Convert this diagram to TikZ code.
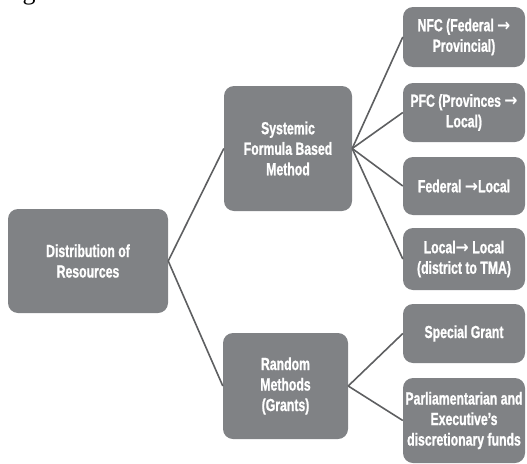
\documentclass[tikz,border=0pt]{standalone}
\usepackage{fontspec}
\setmainfont{Liberation Sans}[FakeStretch=0.7, BoldFont={Liberation Sans Bold}, BoldFeatures={FakeBold=1}]
\newfontfamily\arrowfont{DejaVu Sans Bold}[FakeStretch=0.9]
\newfontfamily\capfont{Liberation Serif}
\newcommand{\rarr}{{\arrowfont\char"2192}}
\definecolor{boxgray}{HTML}{808285}
\definecolor{linegray}{HTML}{5E5F61}
\begin{document}
\begin{tikzpicture}[x=1pt,y=-1pt,
  box/.style={fill=boxgray, rounded corners=10pt, text=white,
    font=\bfseries\fontsize{17.5}{20.5}\selectfont, align=center, inner sep=0pt},
  link/.style={draw=linegray, line width=1.6pt}]
\useasboundingbox (0,0) rectangle (527,463);
% clipped caption fragment
\node[anchor=base, font=\capfont\fontsize{26}{26}\selectfont, inner sep=0pt] (cap) at (29,-1) {g};
% boxes
\node[box, minimum width=160pt, minimum height=104pt] (dist) at (88,261) {Distribution of\\Resources};
\node[box, minimum width=128pt, minimum height=125pt] (sys) at (288,148.5) {Systemic\\Formula Based\\Method};
\node[box, minimum width=125pt, minimum height=106pt] (rand) at (285.5,386) {Random\\Methods\\(Grants)};
\node[box, minimum width=122pt, minimum height=60pt] (nfc) at (464,37) {NFC (Federal \rarr\\Provincial)};
\node[box, minimum width=122pt, minimum height=59pt] (pfc) at (464,112.5) {PFC (Provinces \rarr\\Local)};
\node[box, minimum width=122pt, minimum height=58pt] (fed) at (464,186) {Federal \rarr Local};
\node[box, minimum width=122pt, minimum height=62pt] (loc) at (464,259) {Local\rarr{} Local\\(district to TMA)};
\node[box, minimum width=122pt, minimum height=59pt] (spec) at (464,333.5) {Special Grant};
\node[box, minimum width=122pt, minimum height=85pt] (parl) at (464,420.5) {Parliamentarian and\\Executive’s\\discretionary funds};
% connectors
\draw[link] (dist.east) -- (sys.west);
\draw[link] (dist.east) -- (rand.west);
\draw[link] (sys.east) -- (nfc.west);
\draw[link] (sys.east) -- (pfc.west);
\draw[link] (sys.east) -- (fed.west);
\draw[link] (sys.east) -- (loc.west);
\draw[link] (rand.east) -- (spec.west);
\draw[link] (rand.east) -- (parl.west);
\end{tikzpicture}
\end{document}
